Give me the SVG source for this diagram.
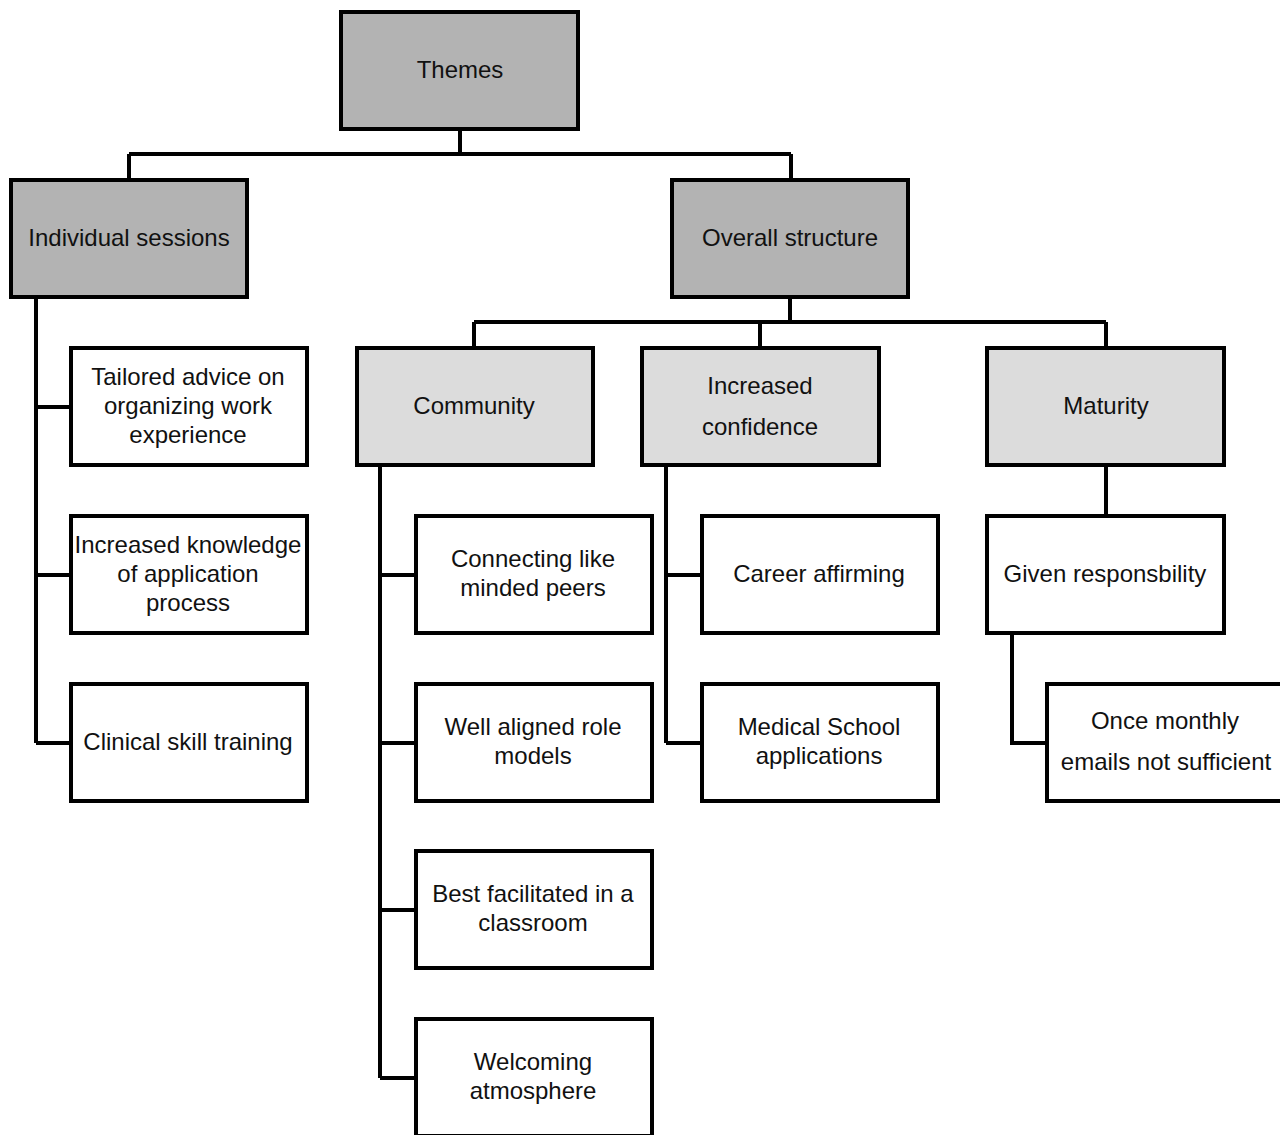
<svg xmlns="http://www.w3.org/2000/svg" width="1280" height="1135" viewBox="0 0 1280 1135">
<style>
.box{stroke:#000;stroke-width:4}
.d{fill:#b3b3b3}
.m{fill:#dcdcdc}
.w{fill:#fff}
text{font-family:"Liberation Sans",Arial,sans-serif;font-size:24px;fill:#111;text-anchor:middle}
.c{fill:none;stroke:#000;stroke-width:4;stroke-linejoin:miter}
</style>
<rect width="1280" height="1135" fill="#fff"/>
<g id="connectors">
<path class="c" d="M460 130V154M129 154H791M129 154V179M791 154V179"/>
<path class="c" d="M790 298V322M474 322H1106M474 322V347M760 322V347M1106 322V347"/>
<path class="c" d="M36 298V743M36 407H70M36 575H70M36 743H70"/>
<path class="c" d="M380 466V1078M380 575H415M380 743H415M380 910H415M380 1078H415"/>
<path class="c" d="M666 466V743M666 575H701M666 743H701"/>
<path class="c" d="M1106 466V515"/>
<path class="c" d="M1012 634V743H1046"/>
</g>
<g id="themes"><rect class="box d" x="341" y="12" width="237" height="117"/><text x="460" y="78">Themes</text></g>
<g id="individual"><rect class="box d" x="11" y="180" width="236" height="117"/><text x="129" y="246">Individual sessions</text></g>
<g id="overall"><rect class="box d" x="672" y="180" width="236" height="117"/><text x="790" y="246">Overall structure</text></g>
<g id="community"><rect class="box m" x="357" y="348" width="236" height="117"/><text x="474" y="414">Community</text></g>
<g id="confidence"><rect class="box m" x="642" y="348" width="237" height="117"/><text x="760" y="394">Increased</text><text x="760" y="435">confidence</text></g>
<g id="maturity"><rect class="box m" x="987" y="348" width="237" height="117"/><text x="1106" y="414">Maturity</text></g>
<g id="tailored"><rect class="box w" x="71" y="348" width="236" height="117"/><text x="188" y="385">Tailored advice on</text><text x="188" y="414">organizing work</text><text x="188" y="443">experience</text></g>
<g id="knowledge"><rect class="box w" x="71" y="516" width="236" height="117"/><text x="188" y="553">Increased knowledge</text><text x="188" y="582">of application</text><text x="188" y="611">process</text></g>
<g id="clinical"><rect class="box w" x="71" y="684" width="236" height="117"/><text x="188" y="750">Clinical skill training</text></g>
<g id="connecting"><rect class="box w" x="416" y="516" width="236" height="117"/><text x="533" y="567">Connecting like</text><text x="533" y="596">minded peers</text></g>
<g id="rolemodels"><rect class="box w" x="416" y="684" width="236" height="117"/><text x="533" y="735">Well aligned role</text><text x="533" y="764">models</text></g>
<g id="classroom"><rect class="box w" x="416" y="851" width="236" height="117"/><text x="533" y="902">Best facilitated in a</text><text x="533" y="931">classroom</text></g>
<g id="welcoming"><rect class="box w" x="416" y="1019" width="236" height="117"/><text x="533" y="1070">Welcoming</text><text x="533" y="1099">atmosphere</text></g>
<g id="career"><rect class="box w" x="702" y="516" width="236" height="117"/><text x="819" y="582">Career affirming</text></g>
<g id="medical"><rect class="box w" x="702" y="684" width="236" height="117"/><text x="819" y="735">Medical School</text><text x="819" y="764">applications</text></g>
<g id="responsibility"><rect class="box w" x="987" y="516" width="237" height="117"/><text x="1105" y="582">Given responsbility</text></g>
<g id="emails"><rect class="box w" x="1047" y="684" width="237" height="117"/><text x="1165" y="729">Once monthly</text><text x="1166" y="770">emails not sufficient</text></g>
</svg>
